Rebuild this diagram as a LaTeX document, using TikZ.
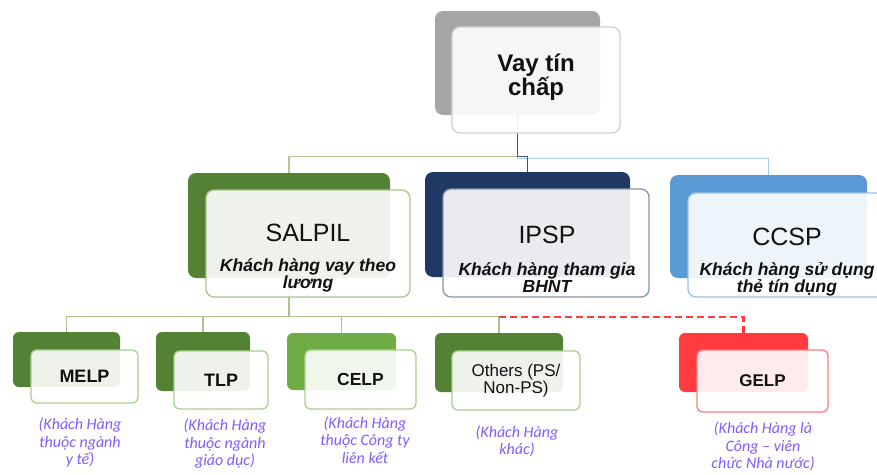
\documentclass[tikz,border=0pt]{standalone}
\usepackage{fontspec}
\setmainfont{Liberation Sans}
\newfontfamily\calfont{Carlito}
\usetikzlibrary{calc}
\definecolor{dgreen}{HTML}{548235}
\definecolor{lgreen}{HTML}{70AD47}
\definecolor{navy}{HTML}{203864}
\definecolor{sblue}{HTML}{5B9BD5}
\definecolor{sgray}{HTML}{A6A6A6}
\definecolor{sred}{HTML}{FF3B3F}
\definecolor{bgreen}{HTML}{A9C48F}
\definecolor{bgreenl}{HTML}{A9D18E}
\definecolor{bgray}{HTML}{D0D0D0}
\definecolor{bnavy}{HTML}{8497B0}
\definecolor{bblue}{HTML}{9DC3E6}
\definecolor{bred}{HTML}{FF7C80}
\definecolor{cgreen}{HTML}{B0C69A}
\definecolor{cnavy}{HTML}{44546A}
\definecolor{cblue}{HTML}{A9CBEA}
\definecolor{capcol}{RGB}{128,92,255}
\definecolor{txt}{HTML}{111111}
\tikzset{
  backbox/.style={rectangle, rounded corners=#1, inner sep=0pt, draw=none},
  backbox/.default=8pt,
  frontbox/.style={rectangle, rounded corners=#1, inner sep=0pt, fill=white, fill opacity=0.9, text opacity=1, line width=1.3pt, text=txt},
  frontbox/.default=8pt,
  conn/.style={line width=1.2pt},
  ttl/.style={inner sep=0pt, text=txt, font=\fontsize{25}{27}\selectfont},
  subt/.style={inner sep=0pt, text=txt, align=center, font=\bfseries\itshape\fontsize{17.5}{17}\selectfont},
  captxt/.style={inner sep=0pt, text=capcol, align=center, font=\calfont\itshape\fontsize{16}{17.5}\selectfont},
  smalltxt/.style={align=center, font=\bfseries\fontsize{18}{18}\selectfont},
}
\begin{document}
\begin{tikzpicture}[x=1pt,y=-1pt]
\useasboundingbox (0,0) rectangle (877,474);
\begin{scope}
\clip (0,0) rectangle (877,474);
% back boxes
\node[backbox, fill=sgray, minimum width=165pt, minimum height=104pt] (topb) at (517.5,63) {};
\node[backbox, fill=dgreen, minimum width=202pt, minimum height=105pt] (salb) at (289,225.5) {};
\node[backbox, fill=navy, minimum width=205pt, minimum height=105pt] (ipsb) at (527.5,224.5) {};
\node[backbox, fill=sblue, minimum width=197pt, minimum height=103pt] (ccsb) at (768.5,226.5) {};
\node[backbox=6pt, fill=dgreen, minimum width=107pt, minimum height=55pt] (melb) at (66.5,359.5) {};
\node[backbox=6pt, fill=dgreen, minimum width=94pt, minimum height=59pt] (tlpb) at (203,361.5) {};
\node[backbox=6pt, fill=lgreen, minimum width=109pt, minimum height=57pt] (celb) at (341.5,361.5) {};
\node[backbox=6pt, fill=dgreen, minimum width=128pt, minimum height=59pt] (othb) at (499,362.5) {};
\node[backbox=6pt, fill=sred, minimum width=129pt, minimum height=59pt] (gelb) at (743.5,362.5) {};
% connectors
\draw[conn, cblue] (topb.south) -- ++(0,43) -| (ccsb.north);
\draw[conn, cgreen] (topb.south) -- ++(0,41) -| (salb.north);
\draw[conn, cnavy] (topb.south) -- ++(0,41) -| (ipsb.north);
\draw[conn, bgreen] (salb.south) -- ++(0,38) -| (melb.north);
\draw[conn, bgreen] (salb.south) -- ++(0,38) -| (tlpb.north);
\draw[conn, bgreen] (salb.south) -- ++(0,38) -| (celb.north);
\draw[conn, bgreen] (salb.south) -- ++(0,38) -| (othb.north);
\coordinate (jr) at (499,317);
\draw[line width=2.6pt, sred, dash pattern=on 7pt off 4pt] (jr) -| (gelb.north);
% front boxes
\node[frontbox, draw=bgray, minimum width=168pt, minimum height=106pt] (topf) at (536,80) {};
\node[frontbox, draw=bgreen, minimum width=204pt, minimum height=107pt] (salf) at (308,243.5) {};
\node[frontbox, draw=bnavy, minimum width=206pt, minimum height=108pt] (ipsf) at (546,243) {};
\node[frontbox, draw=bblue, minimum width=206pt, minimum height=104pt] (ccsf) at (791,245) {};
\node[frontbox=6pt, draw=bgreenl, minimum width=107pt, minimum height=53pt, smalltxt] (melf) at (84.5,376.5) {MELP};
\node[frontbox=6pt, draw=bgreenl, minimum width=94pt, minimum height=58pt, smalltxt] (tlpf) at (221,380) {TLP};
\node[frontbox=6pt, draw=bgreenl, minimum width=111pt, minimum height=59pt, smalltxt, font=\bfseries\fontsize{17.5}{18}\selectfont] (celf) at (360.5,379.5) {CELP};
\node[frontbox=6pt, draw=bgreenl, minimum width=128pt, minimum height=59pt, align=center, font=\fontsize{17}{17}\selectfont] (othf) at (516,380.5) {Others (PS/\\Non-PS)};
\node[frontbox=6pt, draw=bred, minimum width=131pt, minimum height=62pt, smalltxt, font=\bfseries\fontsize{17}{18}\selectfont] (gelf) at (762.5,381) {GELP};
% texts
\node[inner sep=0pt, text=txt, align=center, font=\bfseries\fontsize{24}{23}\selectfont] (toptxt) at (536,77) {Vay tín\\chấp};
\node[ttl] (saltitle) at (308,233) {SALPIL};
\node[subt] (salsub) at (308,275.5) {Khách hàng vay theo\\lương};
\node[ttl] (ipstitle) at (547,235) {IPSP};
\node[subt] (ipssub) at (547,278) {Khách hàng tham gia\\BHNT};
\node[ttl] (ccstitle) at (787,237) {CCSP};
\node[subt] (ccssub) at (787,279) {Khách hàng sử dụng\\thẻ tín dụng};
\node[captxt] (melcap) at (80,442.5) {(Khách Hàng\\thuộc ngành\\y tế)};
\node[captxt] (tlpcap) at (225,444) {(Khách Hàng\\thuộc ngành\\giáo dục)};
\node[captxt] (celcap) at (365,440) {(Khách Hàng\\thuộc Công ty\\liên kết};
\node[captxt] (othcap) at (517,441.5) {(Khách Hàng\\khác)};
\node[captxt] (gelcap) at (763,446.5) {(Khách Hàng là\\Công – viên\\chức Nhà nước)};
\end{scope}
\end{tikzpicture}
\end{document}
